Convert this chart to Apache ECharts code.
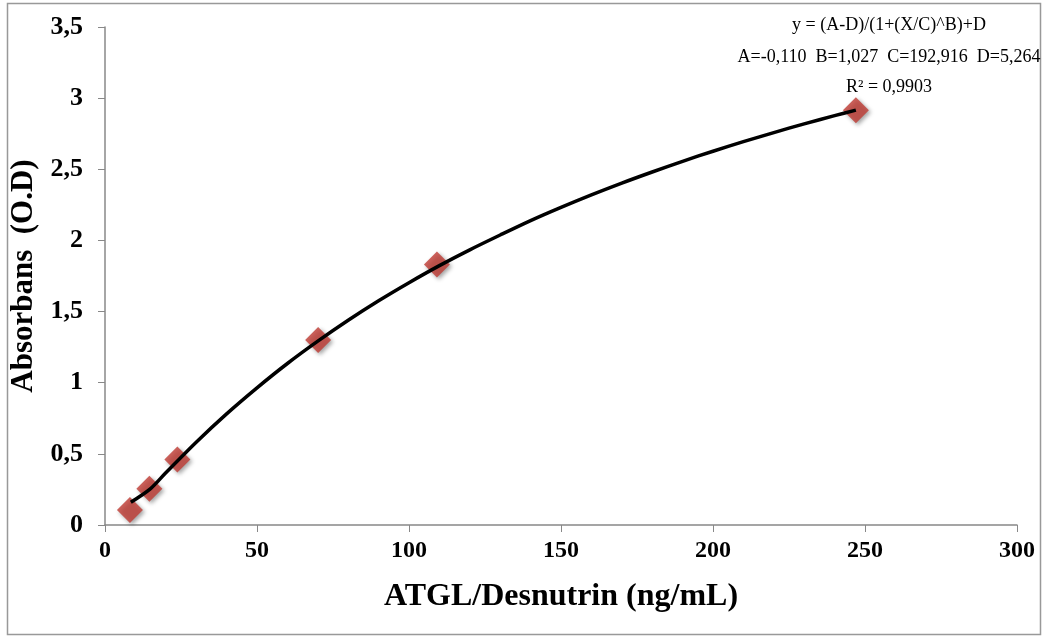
<!DOCTYPE html>
<html>
<head>
<meta charset="utf-8">
<script src="https://cdn.jsdelivr.net/npm/echarts@6/dist/echarts.min.js"></script>
<style>html,body{margin:0;padding:0;background:#fff;}#c{width:1049px;height:641px;}</style>
</head>
<body>
<div id="c"></div>
<script>
// Measured standards (concentration ng/mL, absorbance O.D)
const stdX = [8.2, 14.6, 23.8, 70.1, 109.2, 247];
const stdY = [0.105, 0.255, 0.46, 1.30, 1.83, 2.915];
// Fitted curve
const curveX = [8.5, 15, 20, 30, 40, 50, 60, 70, 80, 90, 100, 110, 120, 130, 140, 150, 160, 170, 180, 190, 200, 210, 220, 230, 240, 247];
const curveY = [0.16, 0.256, 0.367, 0.582, 0.781, 0.964, 1.135, 1.292, 1.439, 1.576, 1.703, 1.823, 1.934, 2.038, 2.139, 2.232, 2.320, 2.403, 2.481, 2.556, 2.627, 2.694, 2.758, 2.819, 2.877, 2.916];
const xTicks = [0, 50, 100, 150, 200, 250, 300];
const yTicks = [0, 0.5, 1, 1.5, 2, 2.5, 3, 3.5];
const eqLines = ['y = (A-D)/(1+(X/C)^B)+D', 'A=-0,110  B=1,027  C=192,916  D=5,264', 'R\u00b2 = 0,9903'];

const serif = '"Liberation Serif", "Times New Roman", serif';
const chart = echarts.init(document.getElementById('c'), null, {renderer: 'canvas'});
chart.setOption({
  animation: false,
  backgroundColor: '#fff',
  grid: {left: 105, right: 32, top: 27, bottom: 116},
  xAxis: {
    type: 'value', min: xTicks[0], max: xTicks[xTicks.length - 1], interval: 50,
    name: 'ATGL/Desnutrin (ng/mL)', nameLocation: 'middle', nameGap: 56,
    nameTextStyle: {fontFamily: serif, fontWeight: 'bold', fontSize: 32, color: '#000'},
    axisLine: {lineStyle: {color: '#888', width: 1.5}},
    axisTick: {show: true, length: 7, lineStyle: {color: '#888'}},
    splitLine: {show: false},
    axisLabel: {fontFamily: serif, fontWeight: 'bold', fontSize: 24, color: '#000', margin: 14}
  },
  yAxis: {
    type: 'value', min: yTicks[0], max: yTicks[yTicks.length - 1], interval: 0.5,
    name: 'Absorbans  (O.D)', nameLocation: 'middle', nameGap: 58,
    nameTextStyle: {fontFamily: serif, fontWeight: 'bold', fontSize: 31, color: '#000'},
    axisLine: {show: true, lineStyle: {color: '#888', width: 1.5}},
    axisTick: {show: true, length: 7, lineStyle: {color: '#888'}},
    splitLine: {show: false},
    axisLabel: {fontFamily: serif, fontWeight: 'bold', fontSize: 26, color: '#000', margin: 22,
      formatter: v => String(v).replace('.', ',')}
  },
  graphic: [
    {type: 'rect', shape: {x: 7.5, y: 3.5, width: 1033, height: 631}, style: {fill: null, stroke: '#999', lineWidth: 1.5}, silent: true, z: -1},
    {type: 'text', x: 889, y: 25, style: {text: eqLines[0], font: '18px ' + serif, fill: '#000', textAlign: 'center', textVerticalAlign: 'middle'}},
    {type: 'text', x: 889, y: 57, style: {text: eqLines[1], font: '18px ' + serif, fill: '#000', textAlign: 'center', textVerticalAlign: 'middle'}},
    {type: 'text', x: 889, y: 87, style: {text: eqLines[2], font: '18px ' + serif, fill: '#000', textAlign: 'center', textVerticalAlign: 'middle'}}
  ],
  series: [
    {
      type: 'scatter', symbol: 'diamond', symbolSize: 26, z: 2,
      itemStyle: {color: '#BF3B33', shadowBlur: 4, shadowColor: 'rgba(0,0,0,0.45)', shadowOffsetX: 2, shadowOffsetY: 2},
      data: stdX.map((x, i) => [x, stdY[i]])
    },
    {
      type: 'line', smooth: 0.3, showSymbol: false, z: 3,
      lineStyle: {color: '#000', width: 3.5},
      data: curveX.map((x, i) => [x, curveY[i]])
    }
  ]
});
</script>
</body>
</html>
